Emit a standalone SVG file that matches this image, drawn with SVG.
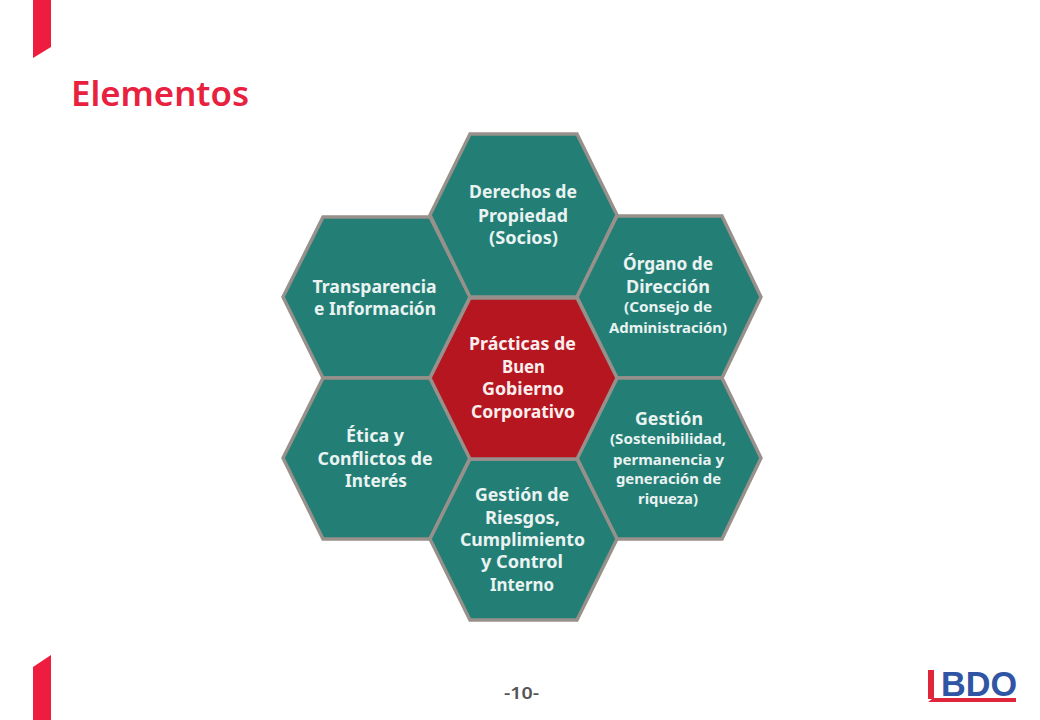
<svg xmlns="http://www.w3.org/2000/svg" width="1040" height="720" viewBox="0 0 1040 720">
<style>
.hex{stroke:#97908b;stroke-width:3.4;stroke-linejoin:miter}
.teal{fill:#237f76}
.red{fill:#b61620}
text{font-family:"Noto Sans","Liberation Sans",sans-serif;font-weight:700;text-anchor:middle}
.l{font-size:17px;fill:#eaf3f1}
.c{font-size:17px;fill:#fbeeee}
.s{font-size:13.5px;fill:#eaf3f1}
.accent{fill:#ee1c3e}
</style>
<rect width="1040" height="720" fill="#fff"/>
<polygon class="accent" points="33,0 51,0 51,47 33,58"/>
<polygon class="accent" points="33,667 51,655 51,720 33,720"/>
<text x="71" y="106" style="font-size:34px;text-anchor:start;fill:#e8213f;font-weight:600" textLength="178" lengthAdjust="spacingAndGlyphs">Elementos</text>
<g id="node-transparencia"><polygon class="hex teal" points="283,297 323,217 430,217 470,297 430,378 323,378"/>
<text class="l" x="374.500" y="293" textLength="124" lengthAdjust="spacingAndGlyphs">Transparencia</text><text class="l" x="375" y="315" textLength="122" lengthAdjust="spacingAndGlyphs">e Información</text></g>
<g id="node-etica"><polygon class="hex teal" points="283,458 323,378 430,378 470,458 430,539 323,539"/>
<text class="l" x="375" y="442" textLength="58" lengthAdjust="spacingAndGlyphs">Ética y</text><text class="l" x="375" y="465" textLength="115" lengthAdjust="spacingAndGlyphs">Conflictos de</text><text class="l" x="376" y="487" textLength="62" lengthAdjust="spacingAndGlyphs">Interés</text></g>
<g id="node-derechos"><polygon class="hex teal" points="430,215 470,134 577,134 617,215 577,297 470,297"/>
<text class="l" x="523" y="198" textLength="108" lengthAdjust="spacingAndGlyphs">Derechos de</text><text class="l" x="523" y="222" textLength="90" lengthAdjust="spacingAndGlyphs">Propiedad</text><text class="l" x="523.500" y="244" textLength="69" lengthAdjust="spacingAndGlyphs">(Socios)</text></g>
<g id="node-organo"><polygon class="hex teal" points="577,297 617,216 722,216 761,297 722,378 617,378"/>
<text class="l" x="668" y="270" textLength="90" lengthAdjust="spacingAndGlyphs">Órgano de</text><text class="l" x="668" y="293" textLength="84" lengthAdjust="spacingAndGlyphs">Dirección</text><text class="s" x="668" y="312" textLength="88" lengthAdjust="spacingAndGlyphs">(Consejo de</text><text class="s" x="668" y="333" textLength="118" lengthAdjust="spacingAndGlyphs">Administración)</text></g>
<g id="node-gestion"><polygon class="hex teal" points="577,458 617,378 722,378 761,458 722,539 617,539"/>
<text class="l" x="669" y="425" textLength="68" lengthAdjust="spacingAndGlyphs">Gestión</text><text class="s" x="668" y="444" textLength="116" lengthAdjust="spacingAndGlyphs">(Sostenibilidad,</text><text class="s" x="668.500" y="465" textLength="111" lengthAdjust="spacingAndGlyphs">permanencia y</text><text class="s" x="668.500" y="484" textLength="105" lengthAdjust="spacingAndGlyphs">generación de</text><text class="s" x="668" y="504" textLength="60" lengthAdjust="spacingAndGlyphs">riqueza)</text></g>
<g id="node-riesgos"><polygon class="hex teal" points="430,539 470,459 577,459 617,539 577,620 470,620"/>
<text class="l" x="522" y="501" textLength="94" lengthAdjust="spacingAndGlyphs">Gestión de</text><text class="l" x="522.500" y="524" textLength="75" lengthAdjust="spacingAndGlyphs">Riesgos,</text><text class="l" x="522.500" y="546" textLength="125" lengthAdjust="spacingAndGlyphs">Cumplimiento</text><text class="l" x="522" y="568" textLength="82" lengthAdjust="spacingAndGlyphs">y Control</text><text class="l" x="522" y="591" textLength="64" lengthAdjust="spacingAndGlyphs">Interno</text></g>
<g id="node-centro"><polygon class="hex red" points="430,378 470,298 577,298 617,378 577,459 470,459"/>
<text class="c" x="522.500" y="350" textLength="107" lengthAdjust="spacingAndGlyphs">Prácticas de</text><text class="c" x="523.500" y="373" textLength="43" lengthAdjust="spacingAndGlyphs">Buen</text><text class="c" x="523" y="395" textLength="82" lengthAdjust="spacingAndGlyphs">Gobierno</text><text class="c" x="523" y="418" textLength="104" lengthAdjust="spacingAndGlyphs">Corporativo</text></g>
<text x="521.500" y="699" style="font-size:16px;fill:#555;font-weight:600" textLength="35" lengthAdjust="spacingAndGlyphs">-10-</text>
<g id="logo">
<polygon fill="#e0263a" points="928,670 934,670 934,698 1016,698 1016,702 928,702 932,699 928,699"/>
<text x="979" y="696" style="font-size:35px;fill:#2f55a4;font-family:'Liberation Sans',sans-serif" textLength="76" lengthAdjust="spacingAndGlyphs">BDO</text>
</g>
</svg>
